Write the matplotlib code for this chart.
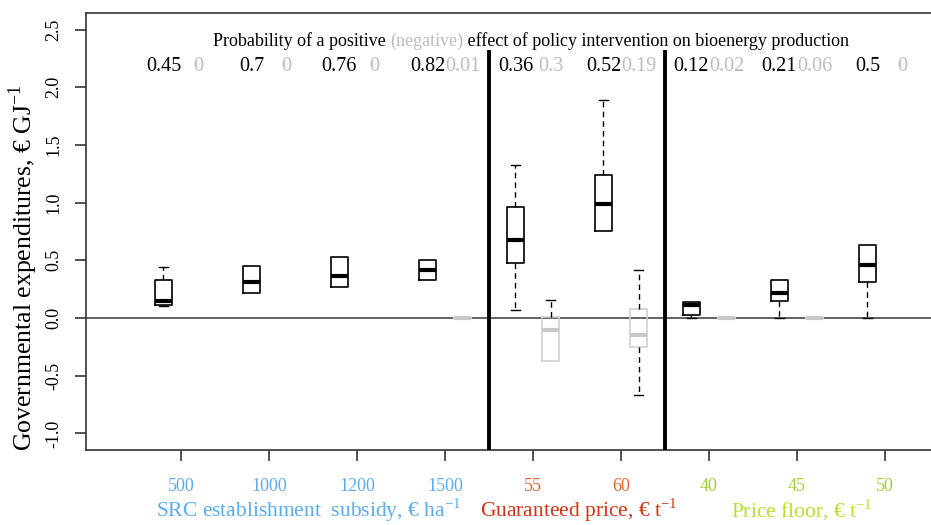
import matplotlib
matplotlib.use("Agg")
import matplotlib.pyplot as plt
import matplotlib.transforms as mtransforms

plt.rcParams['font.family'] = ['Liberation Serif', 'DejaVu Serif']
plt.rcParams['mathtext.fontset'] = 'custom'
plt.rcParams['mathtext.rm'] = 'Liberation Serif'

# policy levels (tick labels) and their group colours
levels = ["500", "1000", "1200", "1500", "55", "60", "40", "45", "50"]
level_colors = ["#5aaaf0"] * 4 + ["#dc6438"] * 2 + ["#9fd030"] * 3

# probability of positive (black) and negative (grey) effect
prob_pos = [0.45, 0.7, 0.76, 0.82, 0.36, 0.52, 0.12, 0.21, 0.5]
prob_neg = [0, 0, 0, 0.01, 0.3, 0.19, 0.02, 0.06, 0]

# positive effect boxes: lower whisker, q1, median, q3, upper whisker
pos_lo = [0.10, 0.22, 0.27, 0.33, 0.07, 0.75, 0.00, 0.00, 0.00]
pos_q1 = [0.11, 0.22, 0.27, 0.33, 0.48, 0.75, 0.03, 0.15, 0.31]
pos_med = [0.15, 0.31, 0.36, 0.42, 0.68, 0.99, 0.11, 0.22, 0.46]
pos_q3 = [0.33, 0.45, 0.53, 0.50, 0.96, 1.24, 0.14, 0.33, 0.63]
pos_hi = [0.445, 0.45, 0.53, 0.50, 1.33, 1.89, 0.14, 0.33, 0.63]

# negative effect boxes (None = no box drawn)
neg_lo = [None, None, None, 0.0, -0.37, -0.67, 0.0, 0.0, None]
neg_q1 = [None, None, None, 0.0, -0.37, -0.25, 0.0, 0.0, None]
neg_med = [None, None, None, 0.0, -0.10, -0.15, 0.0, 0.0, None]
neg_q3 = [None, None, None, 0.0, 0.01, 0.075, 0.0, 0.0, None]
neg_hi = [None, None, None, 0.0, 0.16, 0.415, 0.0, 0.0, None]

groups = ["SRC establishment  subsidy, \u20ac ha$^{\\mathrm{-1}}$",
          "Guaranteed price, \u20ac t$^{\\mathrm{-1}}$",
          "Price floor, \u20ac t$^{\\mathrm{-1}}$"]
group_colors = ["#5aaaf0", "#cc3414", "#b4e030"]
group_x = [2.45, 5.52, 8.05]


def hide_flat_caps(parts, stats):
    # no cap where the whisker has zero length
    for k, s in enumerate(stats):
        if s["whislo"] == s["q1"]:
            parts["caps"][2 * k].set_visible(False)
            parts["whiskers"][2 * k].set_visible(False)
        if s["whishi"] == s["q3"]:
            parts["caps"][2 * k + 1].set_visible(False)
            parts["whiskers"][2 * k + 1].set_visible(False)


fig = plt.figure(figsize=(9.31, 5.25), dpi=100)
ax = fig.add_axes([86 / 931, 75 / 525, 887 / 931, 437 / 525])
ax.set_xlim(-0.08, 10.0)
ax.set_ylim(-1.144, 2.643)

xs = list(range(1, len(levels) + 1))

pos_stats = []
for i in range(len(levels)):
    pos_stats.append(dict(whislo=pos_lo[i], q1=pos_q1[i], med=pos_med[i],
                          q3=pos_q3[i], whishi=pos_hi[i], fliers=[]))
bp = ax.bxp(pos_stats, positions=[x - 0.2 for x in xs], widths=0.2, capwidths=0.1,
            showfliers=False, manage_ticks=False,
            boxprops=dict(color="black", linewidth=1.2),
            medianprops=dict(color="black", linewidth=3),
            whiskerprops=dict(color="black", linewidth=1, linestyle=(0, (4, 3))),
            capprops=dict(color="black", linewidth=1), zorder=3)
hide_flat_caps(bp, pos_stats)

neg_stats, neg_pos = [], []
for i in range(len(levels)):
    if neg_med[i] is None:
        continue
    neg_stats.append(dict(whislo=neg_lo[i], q1=neg_q1[i], med=neg_med[i],
                          q3=neg_q3[i], whishi=neg_hi[i], fliers=[]))
    neg_pos.append(xs[i] + 0.2)
bp = ax.bxp(neg_stats, positions=neg_pos, widths=0.2, capwidths=0.1,
            showfliers=False, manage_ticks=False,
            boxprops=dict(color="#cfcfcf", linewidth=1.2),
            medianprops=dict(color="#c8c8c8", linewidth=3),
            whiskerprops=dict(color="black", linewidth=1, linestyle=(0, (4, 3))),
            capprops=dict(color="black", linewidth=1), zorder=3)
hide_flat_caps(bp, neg_stats)

ax.axhline(0, color="#555555", linewidth=1.3, zorder=2)
ax.vlines([4.5, 6.5], -1.144, 2.32, color="black", linewidth=2.8, zorder=4)

# probability labels
for i, x in enumerate(xs):
    ax.text(x - 0.2, 2.18, f"{prob_pos[i]:g}", ha="center", va="center",
            fontsize=14.5, color="black")
    ax.text(x + 0.2, 2.18, f"{prob_neg[i]:g}", ha="center", va="center",
            fontsize=14.5, color="#bbbbbb")

t1 = ax.text(1.364, 2.40, "Probability of a positive ", ha="left", va="center",
             fontsize=13, color="black")
t2 = ax.annotate("(negative)", xycoords=t1, xy=(1, 0), va="bottom",
                 fontsize=13, color="#bbbbbb")
ax.annotate(" effect of policy intervention on bioenergy production",
            xycoords=t2, xy=(1, 0), va="bottom", fontsize=13, color="black")

# axes styling
for side in ["left", "bottom", "top"]:
    ax.spines[side].set_color("#333333")
    ax.spines[side].set_linewidth(1.2)
ax.spines["right"].set_visible(False)

yt = [-1.0, -0.5, 0.0, 0.5, 1.0, 1.5, 2.0, 2.5]
ax.set_yticks(yt)
ax.set_yticklabels([f"{v:.1f}" for v in yt], rotation=90, va="center",
                   fontsize=13)
ax.tick_params(axis="y", length=8, width=1.2, pad=9, color="#333333")

ax.set_xticks(xs)
ax.set_xticklabels(levels, fontsize=13)
for lab, c in zip(ax.get_xticklabels(), level_colors):
    lab.set_color(c)
ax.tick_params(axis="x", length=8, width=1.2, pad=12, color="#333333")

trans = mtransforms.blended_transform_factory(ax.transData, fig.transFigure)
for name, c, gx in zip(groups, group_colors, group_x):
    ax.text(gx, 0.015, name, transform=trans, ha="center", va="baseline",
            fontsize=15.5, color=c)

fig.text(23 / 931, (525 - 268) / 525,
         "Governmental expenditures, \u20ac GJ$^{\\mathrm{-1}}$",
         rotation=90, ha="center", va="center", fontsize=18.5, color="black")

fig.savefig("out.png", dpi=100)
